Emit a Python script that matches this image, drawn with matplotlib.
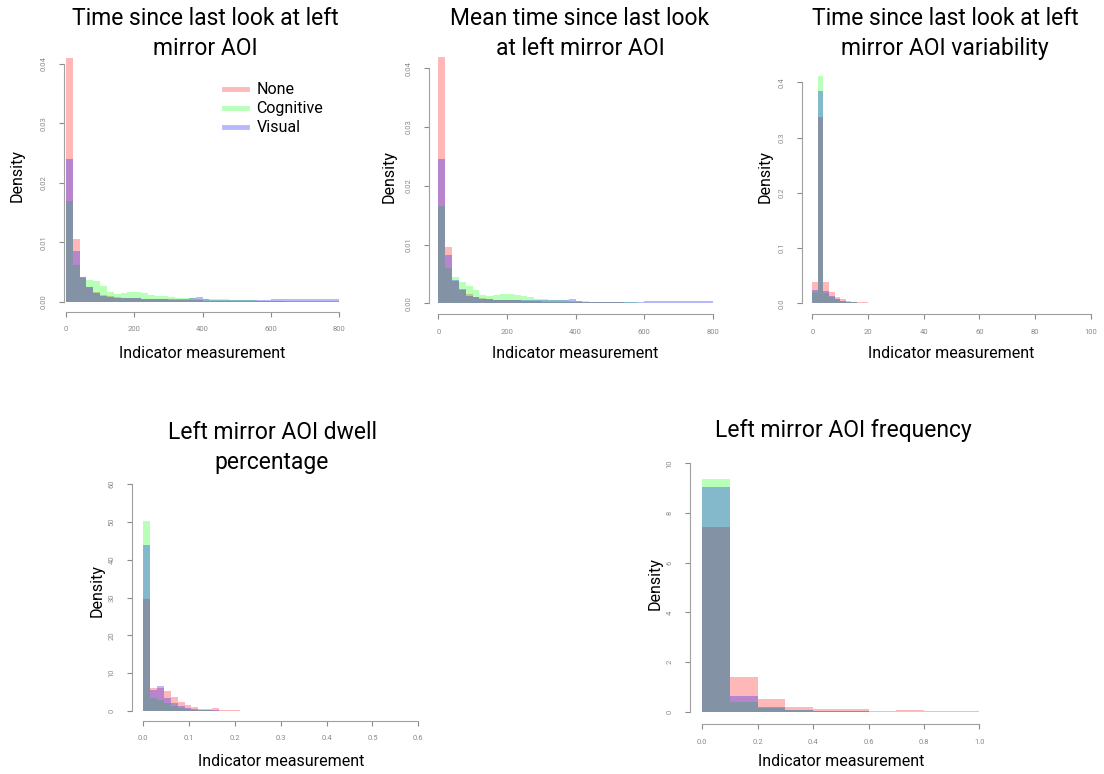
import matplotlib
matplotlib.use('Agg')
import matplotlib.pyplot as plt
from matplotlib.lines import Line2D
import numpy as np

plt.rcParams['font.family'] = ['Roboto', 'DejaVu Sans']

W, H = 1104, 774

groups = ['None', 'Cognitive', 'Visual']
group_colors = [(1, 0, 0, 0.28), (0, 1, 0, 0.28), (0, 0, 1, 0.28)]

# Time since last look at left mirror AOI (bins of 20 from 0)
p1_bins = (0, 20)
p1_none = [0.0410, 0.0105, 0.0042, 0.0024, 0.0016, 0.0012, 0.0009, 0.0008, 0.0007, 0.0006,
           0.0006, 0.0005, 0.0005, 0.0004, 0.0004, 0.0003, 0.0003, 0.0003, 0.0003, 0.0003,
           0.0002, 0.0002, 0.0002, 0.0002, 0.0002, 0.0002, 0.0002, 0.0002, 0.0001, 0.0001,
           0.0001, 0.0001, 0.0001, 0.0001, 0.0001, 0.0001, 0.0001, 0.0001, 0.0001, 0.0001]
p1_cog = [0.0170, 0.0062, 0.0040, 0.0037, 0.0034, 0.0027, 0.0017, 0.0013, 0.0015, 0.0016,
          0.0016, 0.0014, 0.0012, 0.0010, 0.0009, 0.0008, 0.0007, 0.0006, 0.0006, 0.0005,
          0.0005, 0.0004, 0.0004, 0.0004, 0.0003, 0.0003, 0.0003, 0.0003, 0.0002, 0.0002,
          0.0001, 0.0001, 0.0, 0.0, 0.0, 0.0, 0.0, 0.0, 0.0, 0.0]
p1_vis = [0.0240, 0.0085, 0.0041, 0.0025, 0.0014, 0.0010, 0.0008, 0.0007, 0.0007, 0.0006,
          0.0006, 0.0005, 0.0005, 0.0005, 0.0005, 0.0005, 0.0005, 0.0005, 0.0006, 0.0008,
          0.0004, 0.0003, 0.0003, 0.0003, 0.0003, 0.0003, 0.0003, 0.0003, 0.0003, 0.0003,
          0.0004, 0.0004, 0.0004, 0.0004, 0.0004, 0.0004, 0.0004, 0.0004, 0.0004, 0.0004]

# Mean time since last look at left mirror AOI
p2_bins = (0, 20)
p2_none = [0.0420, 0.0095, 0.0038, 0.0022, 0.0015, 0.0011, 0.0009, 0.0007, 0.0006, 0.0006,
           0.0005, 0.0005, 0.0004, 0.0004, 0.0004, 0.0003, 0.0003, 0.0003, 0.0003, 0.0002,
           0.0002, 0.0002, 0.0002, 0.0002, 0.0002, 0.0002, 0.0002, 0.0001, 0.0001, 0.0001,
           0.0001, 0.0001, 0.0001, 0.0001, 0.0001, 0.0001, 0.0001, 0.0001, 0.0001, 0.0001]
p2_cog = [0.0165, 0.0060, 0.0045, 0.0036, 0.0030, 0.0022, 0.0014, 0.0012, 0.0014, 0.0015,
          0.0015, 0.0014, 0.0012, 0.0010, 0.0008, 0.0007, 0.0006, 0.0005, 0.0005, 0.0004,
          0.0004, 0.0004, 0.0003, 0.0003, 0.0003, 0.0003, 0.0002, 0.0002, 0.0002, 0.0001,
          0.0001, 0.0, 0.0, 0.0, 0.0, 0.0, 0.0, 0.0, 0.0, 0.0]
p2_vis = [0.0245, 0.0082, 0.0040, 0.0024, 0.0013, 0.0010, 0.0008, 0.0007, 0.0006, 0.0006,
          0.0005, 0.0005, 0.0005, 0.0005, 0.0005, 0.0005, 0.0005, 0.0005, 0.0006, 0.0007,
          0.0004, 0.0003, 0.0003, 0.0003, 0.0003, 0.0003, 0.0003, 0.0003, 0.0003, 0.0003,
          0.0004, 0.0004, 0.0004, 0.0004, 0.0004, 0.0004, 0.0004, 0.0004, 0.0004, 0.0004]

# Time since last look at left mirror AOI variability (bins of 2)
p3_bins = (0, 2)
p3_none = [0.039, 0.338, 0.039, 0.021, 0.012, 0.007, 0.005, 0.003, 0.002, 0.0015,
           0.0010, 0.0008, 0.0006, 0.0005, 0.0004, 0.0003, 0.0003, 0.0002, 0.0002, 0.0002,
           0.0002, 0.0001, 0.0001, 0.0001, 0.0001, 0.0001, 0.0001, 0.0001, 0.0001, 0.0001,
           0.0001, 0.0001, 0.0001, 0.0001, 0.0001, 0.0001, 0.0001, 0.0001, 0.0001, 0.0001,
           0.0001, 0.0001, 0.0001, 0.0001, 0.0001, 0.0001, 0.0001, 0.0001, 0.0001, 0.0001]
p3_cog = [0.020, 0.412, 0.018, 0.011, 0.007, 0.004, 0.002, 0.0015, 0.0010, 0.0008,
          0.0006, 0.0004, 0.0003, 0.0002, 0.0002, 0.0001, 0.0001, 0.0001, 0.0001, 0.0001,
          0.0001, 0.0001, 0.0001, 0.0001, 0.0001, 0.0, 0.0, 0.0, 0.0, 0.0,
          0.0, 0.0, 0.0, 0.0, 0.0, 0.0, 0.0, 0.0, 0.0, 0.0,
          0.0, 0.0, 0.0, 0.0, 0.0, 0.0, 0.0, 0.0, 0.0, 0.0]
p3_vis = [0.024, 0.385, 0.022, 0.013, 0.008, 0.005, 0.003, 0.002, 0.0012, 0.0009,
          0.0007, 0.0005, 0.0004, 0.0003, 0.0002, 0.0002, 0.0001, 0.0001, 0.0001, 0.0001,
          0.0001, 0.0001, 0.0001, 0.0001, 0.0001, 0.0001, 0.0001, 0.0001, 0.0001, 0.0001,
          0.0001, 0.0001, 0.0001, 0.0001, 0.0001, 0.0, 0.0, 0.0, 0.0, 0.0,
          0.0, 0.0, 0.0, 0.0, 0.0, 0.0, 0.0, 0.0, 0.0, 0.0]

# Left mirror AOI dwell percentage
p4_bins = (0, 0.015)
p4_none = [29.5, 6.0, 6.0, 5.2, 3.6, 2.5, 1.6, 1.0, 0.6, 0.5, 0.7, 0.3, 0.2, 0.15,
           0.1, 0.1, 0.05, 0.05, 0.05, 0.05, 0.03, 0.03, 0.02, 0.02, 0.02, 0.02, 0.02, 0.02]
p4_cog = [50.3, 3.5, 3.0, 2.0, 1.2, 0.8, 0.5, 0.3, 0.2, 0.15, 0.1, 0.1, 0.05, 0.05,
          0.03, 0.03, 0.02, 0.02, 0.0, 0.0, 0.0, 0.0, 0.0, 0.0, 0.0, 0.0, 0.0, 0.0]
p4_vis = [44.0, 5.5, 6.6, 3.5, 2.0, 1.3, 0.8, 0.5, 0.3, 0.2, 0.15, 0.1, 0.08, 0.05,
          0.05, 0.03, 0.03, 0.02, 0.02, 0.0, 0.0, 0.0, 0.0, 0.0, 0.0, 0.0, 0.0, 0.0]

# Left mirror AOI frequency (bins of 0.1)
p5_bins = (0, 0.1)
p5_none = [7.45, 1.40, 0.50, 0.20, 0.10, 0.10, 0.03, 0.06, 0.02, 0.02]
p5_cog = [9.35, 0.40, 0.15, 0.06, 0.02, 0.01, 0.005, 0.005, 0.0, 0.0]
p5_vis = [9.05, 0.65, 0.18, 0.07, 0.03, 0.01, 0.005, 0.005, 0.0, 0.0]

titles = ['Time since last look at left\nmirror AOI',
          'Mean time since last look\nat left mirror AOI',
          'Time since last look at left\nmirror AOI variability',
          'Left mirror AOI dwell\npercentage',
          'Left mirror AOI frequency']
xticks_all = [[0, 200, 400, 600, 800], [0, 200, 400, 600, 800],
              [0, 20, 40, 60, 80, 100], [0, 0.1, 0.2, 0.3, 0.4, 0.5, 0.6],
              [0, 0.2, 0.4, 0.6, 0.8, 1.0]]
yticks_all = [[0, 0.01, 0.02, 0.03, 0.04], [0, 0.01, 0.02, 0.03, 0.04],
              [0, 0.1, 0.2, 0.3, 0.4], [0, 10, 20, 30, 40, 50, 60],
              [0, 2, 4, 6, 8, 10]]
xfmt = ['%d', '%d', '%d', '%.1f', '%.1f']
yfmt = ['%.2f', '%.2f', '%.1f', '%d', '%d']

series = [(p1_bins, p1_none, p1_cog, p1_vis), (p2_bins, p2_none, p2_cog, p2_vis),
          (p3_bins, p3_none, p3_cog, p3_vis), (p4_bins, p4_none, p4_cog, p4_vis),
          (p5_bins, p5_none, p5_cog, p5_vis)]

# pixel layout: axes box (left, top, right, bottom), x anchors, y anchors, x-axis line y,
# title centre x and first baseline, Density label x, xlabel y
layout = [
    dict(box=(63.5, 50, 352, 301.7), xa=(66, 339.3), ya=(301.7, 64), xline=311.7,
         tx=205, ty=25, dx=17, xl=353),
    dict(box=(429.3, 50, 725, 303.3), xa=(438.3, 712.7), ya=(303.3, 68.3), xline=314,
         tx=580, ty=25, dx=389, xl=353),
    dict(box=(801.7, 50, 1100, 303.3), xa=(812.3, 1090.7), ya=(303.3, 82.3), xline=314,
         tx=945, ty=25, dx=765, xl=353),
    dict(box=(131.7, 470, 430, 711), xa=(143.3, 418.3), ya=(711, 484), xline=720.7,
         tx=272, ty=439, dx=97, xl=762),
    dict(box=(690, 455, 990, 711.7), xa=(702.3, 979.3), ya=(711.7, 463.3), xline=724,
         tx=843, ty=437, dx=655, xl=762),
]

fig = plt.figure(figsize=(W / 100, H / 100), dpi=100)

for i, (bins, none, cog, vis) in enumerate(series):
    lay = layout[i]
    L, T, R, B = lay['box']
    ax = fig.add_axes([L / W, 1 - B / H, (R - L) / W, (B - T) / H])
    xt, yt = xticks_all[i], yticks_all[i]

    # map pixel anchors onto data limits
    xp0, xp1 = lay['xa']
    sx = (xt[-1] - xt[0]) / (xp1 - xp0)
    ax.set_xlim(xt[0] + (L - xp0) * sx, xt[0] + (R - xp0) * sx)
    yp0, yp1 = lay['ya']
    sy = (yt[-1] - yt[0]) / (yp0 - yp1)
    ax.set_ylim(yt[0] + (yp0 - B) * sy, yt[0] + (yp0 - T) * sy)

    start, width = bins
    for vals, col in zip([none, cog, vis], group_colors):
        edges = start + width * np.arange(len(vals))
        ax.bar(edges, vals, width=width, align='edge', color=col, linewidth=0)

    for s in ['top', 'right']:
        ax.spines[s].set_visible(False)
    ax.spines['left'].set_bounds(yt[0], yt[-1])
    ax.spines['bottom'].set_bounds(xt[0], xt[-1])
    ax.spines['bottom'].set_position(('outward', (lay['xline'] - B) * 0.72))
    for s in ['left', 'bottom']:
        ax.spines[s].set_color('#a0a0a0')
        ax.spines[s].set_linewidth(0.8)

    ax.set_xticks(xt)
    ax.set_xticklabels([xfmt[i] % v for v in xt])
    ax.set_yticks(yt)
    ax.set_yticklabels([yfmt[i] % v for v in yt], rotation=90, va='center')
    ax.tick_params(colors='#8a8a8a', labelsize=5.5, length=3.5, width=0.8)
    ax.tick_params(axis='x', pad=7)
    ax.tick_params(axis='y', pad=9)
    ax.patch.set_alpha(0)

    for j, line in enumerate(titles[i].split('\n')):
        fig.text(lay['tx'] / W, 1 - (lay['ty'] + 30 * j) / H, line, ha='center',
                 va='baseline', fontsize=16.5, color='black')
    fig.text(lay['dx'] / W, 1 - (B + T) / 2 / H, 'Density', rotation=90,
             ha='center', va='center', fontsize=11.5)
    fig.text((xp0 + xp1) / 2 / W, 1 - lay['xl'] / H, 'Indicator measurement',
             ha='center', va='center', fontsize=11.5)

handles = [Line2D([], [], color=c, lw=3.5) for c in group_colors]
fig.legend(handles, groups, loc='upper left', bbox_to_anchor=(218 / W, 1 - 76 / H),
           frameon=False, fontsize=11.5, handlelength=1.4, handletextpad=0.6,
           labelspacing=0.25, borderaxespad=0)

fig.savefig('out.png', dpi=100)
